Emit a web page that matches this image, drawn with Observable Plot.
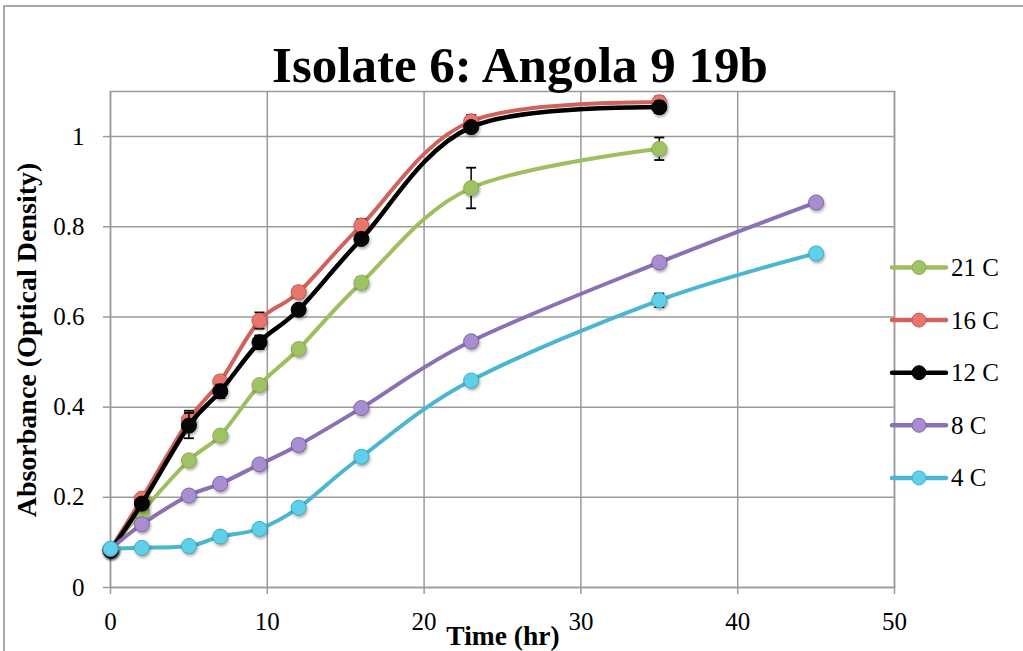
<!DOCTYPE html>
<html>
<head>
<meta charset="utf-8">
<script src="https://cdn.jsdelivr.net/npm/d3@7"></script>
<script src="https://cdn.jsdelivr.net/npm/@observablehq/plot@0.6"></script>
<style>
  body { margin: 0; background: #fff; }
  #wrap { position: relative; width: 1023px; height: 651px; overflow: hidden; background: #fff; }
  #border { position: absolute; left: 3px; top: 5px; width: 1100px; height: 700px; border: 2px solid #a8a8a8; box-sizing: border-box; }
  #chart { position: absolute; left: 0; top: 0; }
  #overlay { position: absolute; left: 0; top: 0; pointer-events: none; }
  #chart svg [aria-label^="x-axis"] line, #chart svg [aria-label^="x-axis"] path,
  #chart svg [aria-label^="y-axis"] line, #chart svg [aria-label^="y-axis"] path { stroke: #9a9a9a; stroke-width: 1.5px; }
</style>
</head>
<body>
<div id="wrap">
  <div id="border"></div>
  <div id="chart"></div>
  <svg id="overlay" width="1023" height="651"></svg>
</div>
<script>
// ---- data ----
const titleText = "Isolate 6: Angola 9 19b";
const xLabel = "Time (hr)";
const yLabel = "Absorbance (Optical Density)";
const times = [0, 2, 5, 7, 9.5, 12, 16, 23, 35, 45];
const seriesNames = ["21 C", "16 C", "12 C", "8 C", "4 C"];
const od21 = [0.085, 0.168, 0.282, 0.337, 0.449, 0.529, 0.676, 0.886, 0.973];
const od16 = [0.085, 0.197, 0.372, 0.457, 0.592, 0.655, 0.803, 1.034, 1.076];
const od12 = [0.082, 0.186, 0.359, 0.435, 0.544, 0.616, 0.773, 1.021, 1.065];
const od8  = [0.085, 0.140, 0.204, 0.230, 0.273, 0.316, 0.398, 0.546, 0.721, 0.854];
const od4  = [0.086, 0.088, 0.092, 0.113, 0.130, 0.177, 0.290, 0.459, 0.637, 0.741];
const err21 = [0.004, 0.008, 0.010, 0.010, 0.010, 0.010, 0.012, 0.045, 0.025];
const err16 = [0.004, 0.008, 0.020, 0.012, 0.018, 0.012, 0.014, 0.014, 0.013];
const err12 = [0.004, 0.010, 0.028, 0.015, 0.015, 0.010, 0.010, 0.010, 0.013];
const err8  = [0.004, 0.005, 0.005, 0.005, 0.005, 0.012, 0.008, 0.005, 0.006, 0.005];
const err4  = [0.004, 0.004, 0.004, 0.005, 0.005, 0.006, 0.006, 0.005, 0.015, 0.007];
const xTicks = [0, 10, 20, 30, 40, 50];
const yTicks = [0, 0.2, 0.4, 0.6, 0.8, 1];
const yTickLabels = ["0", "0.2", "0.4", "0.6", "0.8", "1"];

// ---- styles ----
const lineColors   = ["#9dbf5f", "#d1625b", "#000000", "#8c70b6", "#4bb6d1"];
const markerFills  = ["#9fc262", "#e8766e", "#050505", "#a88dd0", "#5ed0ea"];
const markerStroke = ["#8fae55", "#c65650", "#000000", "#8266ad", "#3fadc8"];

const allValues = [od21, od16, od12, od8, od4];
const allErrors = [err21, err16, err12, err8, err4];

const capSymbol = { draw(ctx) { ctx.moveTo(-5, 0); ctx.lineTo(5, 0); } };

const marks = [
  Plot.ruleX(xTicks, { stroke: "#9a9a9a", strokeWidth: 1.5 }),
  Plot.ruleY(yTicks, { stroke: "#9a9a9a", strokeWidth: 1.5 }),
  Plot.frame({ stroke: "#9a9a9a", strokeWidth: 1.5 })
];

allValues.forEach((vals, s) => {
  const rows = vals.map((v, i) => ({ t: times[i], v, e: allErrors[s][i] }));
  marks.push(
    Plot.line(rows, { x: "t", y: "v", curve: "cardinal", stroke: lineColors[s], strokeWidth: s === 2 ? 4.5 : 4 }),
    Plot.ruleX(rows, { x: "t", y1: d => d.v - d.e, y2: d => d.v + d.e, stroke: "#000", strokeWidth: 1.5 }),
    Plot.dot(rows, { x: "t", y: d => d.v + d.e, symbol: capSymbol, stroke: "#000", strokeWidth: 1.8, fill: "none" }),
    Plot.dot(rows, { x: "t", y: d => d.v - d.e, symbol: capSymbol, stroke: "#000", strokeWidth: 1.8, fill: "none" }),
    Plot.dot(rows, { x: "t", y: "v", r: 7.5, fill: markerFills[s], stroke: markerStroke[s], strokeWidth: 1, fillOpacity: 1 })
  );
});

const chart = Plot.plot({
  width: 1023,
  height: 651,
  marginLeft: 110,
  marginRight: 129,
  marginTop: 91,
  marginBottom: 64,
  style: { fontFamily: "'Liberation Serif', serif", fontSize: "25px", color: "#000", background: "transparent", overflow: "visible" },
  x: { domain: [0, 50], ticks: xTicks, tickSize: 7, tickPadding: 18, label: null, tickFormat: d => String(d) },
  y: { domain: [0, 1.1], ticks: yTicks, tickSize: 7, tickPadding: 19, label: null, tickFormat: d => yTickLabels[yTicks.indexOf(d)] },
  marks
});
document.getElementById("chart").appendChild(chart);

// soft shadows on markers
chart.querySelectorAll("circle").forEach(c => {
  c.style.filter = "drop-shadow(1px 2px 1.5px rgba(0,0,0,0.35))";
});

// ---- overlay texts and legend ----
const ns = "http://www.w3.org/2000/svg";
const ov = document.getElementById("overlay");
function el(tag, attrs, text) {
  const e = document.createElementNS(ns, tag);
  for (const k in attrs) e.setAttribute(k, attrs[k]);
  if (text != null) e.textContent = text;
  ov.appendChild(e);
  return e;
}
const serif = "'Liberation Serif', serif";
el("text", { x: 520, y: 82, "text-anchor": "middle", "font-family": serif, "font-size": 51, "font-weight": "bold" }, titleText);
el("text", { transform: "translate(36,340) rotate(-90)", "text-anchor": "middle", "font-family": serif, "font-size": 28, "font-weight": "bold" }, yLabel);
el("text", { x: 503, y: 645, "text-anchor": "middle", "font-family": serif, "font-size": 27.5, "font-weight": "bold" }, xLabel);

seriesNames.forEach((name, i) => {
  const cy = 267.5 + i * 52.6;
  el("line", { x1: 892, x2: 946, y1: cy, y2: cy, stroke: lineColors[i], "stroke-width": 4.5, "stroke-linecap": "round" });
  el("circle", { cx: 919, cy, r: 7, fill: markerFills[i], stroke: markerStroke[i], "stroke-width": 1 });
  el("text", { x: 951, y: cy + 8.5, "font-family": serif, "font-size": 25 }, name);
});
</script>
</body>
</html>
